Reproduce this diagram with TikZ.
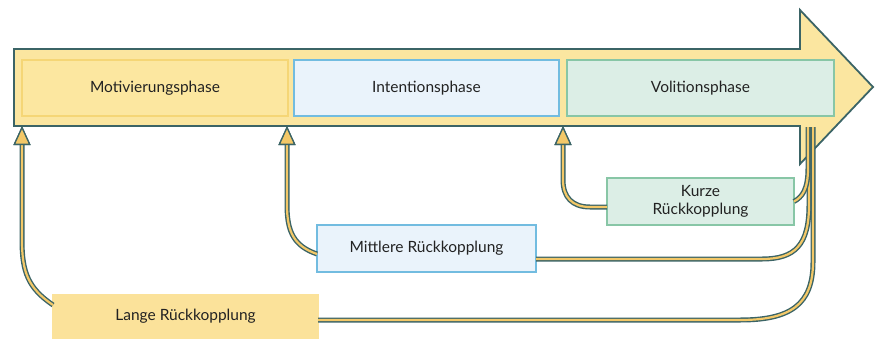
\documentclass[tikz,border=0pt]{standalone}
\usepackage{fontspec}
\setmainfont{Lato}
\usetikzlibrary{arrows.meta}
\definecolor{arrowfill}{HTML}{FBE6A0}
\definecolor{darkline}{HTML}{3B6466}
\definecolor{fbyel}{HTML}{F3C868}
\definecolor{motfill}{HTML}{FCE7A0}
\definecolor{motdraw}{HTML}{F5D676}
\definecolor{intfill}{HTML}{EAF3FB}
\definecolor{intdraw}{HTML}{72BCE0}
\definecolor{volfill}{HTML}{DCEEE6}
\definecolor{voldraw}{HTML}{88C6A6}
\definecolor{langfill}{HTML}{FBE29A}
\definecolor{txt}{HTML}{222222}
\begin{document}
\begin{tikzpicture}[x=1pt,y=-1pt,
  box/.style={rectangle, inner sep=0pt, outer sep=0pt, line width=1.3pt,
    text=txt, align=center, font=\fontsize{15.5}{18}\selectfont},
  fb/.style={draw=fbyel, line width=2.2pt,
    preaction={draw=darkline, line width=5pt}},
  fbarrow/.style={fb, -{Triangle[length=19pt,width=17pt,fill=fbyel,color=darkline,line width=1.3pt]}}
]
\useasboundingbox (0,0) rectangle (877,340);
% main arrow
\draw[fill=arrowfill, draw=darkline, line width=1.8pt, line join=miter]
  (14,49) -- (800,49) -- (800,10) -- (873,87) -- (800,164) -- (800,126) -- (14,126) -- cycle;
% phase boxes
\node[box, fill=motfill, draw=motdraw, minimum width=266pt, minimum height=56pt] (mot) at (155,88) {Motivierungsphase};
\node[box, fill=intfill, draw=intdraw, minimum width=265pt, minimum height=56pt] (int) at (426.5,88) {Intentionsphase};
\node[box, fill=volfill, draw=voldraw, minimum width=267pt, minimum height=56pt] (vol) at (700.5,88) {Volitionsphase};
% feedback boxes
\node[box, fill=volfill, draw=voldraw, minimum width=187pt, minimum height=47pt] (kurze) at (700.5,201.5) {Kurze\\Rückkopplung};
\node[box, fill=intfill, draw=intdraw, minimum width=219pt, minimum height=47pt] (mitt) at (426.5,248.5) {Mittlere Rückkopplung};
\node[box, fill=langfill, draw=langfill, minimum width=265pt, minimum height=43pt] (lang) at (185.5,316.5) {Lange Rückkopplung};
% coordinates
\coordinate (sK) at (808,127);
\coordinate (sM) at (809,127);
\coordinate (sL) at (813,127);
\coordinate (tM) at (22,126);
\coordinate (tI) at (287,126);
\coordinate (tV) at (563,126);
% from Volitionsphase end down to feedback boxes
\draw[fb] (sL) -- (813,262) .. controls (813,305) and (790,320) .. (740,320) -- ([yshift=-3.5pt]lang.east);
\draw[fb] (sM) -- (809,205) .. controls (809,245) and (795,259) .. (762,259) -- ([yshift=-10.5pt]mitt.east);
\draw[fb] (sK) -- (808,168) .. controls (808,190) and (802,197) .. (kurze.east);
% from feedback boxes up to phases
\draw[fbarrow] ([yshift=-10pt]lang.north west) .. controls (28,288) and (22,272) .. (22,240) -- (tM);
\draw[fbarrow] ([yshift=-5.5pt]mitt.west) .. controls (294,246) and (287,232) .. (287,205) -- (tI);
\draw[fbarrow] ([yshift=-5.5pt]kurze.west) -- (590,207) .. controls (572,207) and (563,197) .. (563,180) -- (tV);
\end{tikzpicture}
\end{document}
